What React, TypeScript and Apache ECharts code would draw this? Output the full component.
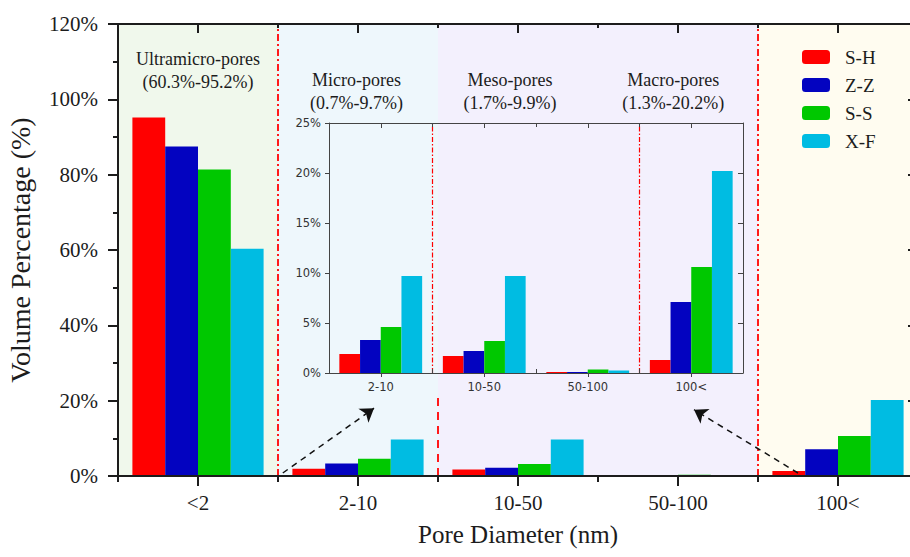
import React, { useEffect, useRef } from "react";
import * as echarts from "echarts";

// ---- data ----
const categories = ["<2", "2-10", "10-50", "50-100", "100<"];
const insetCategories = ["2-10", "10-50", "50-100", "100<"];
const seriesNames = ["S-H", "Z-Z", "S-S", "X-F"];
const shValues = [95.2, 1.9, 1.7, 0.1, 1.3];
const zzValues = [87.5, 3.3, 2.2, 0.1, 7.1];
const ssValues = [81.4, 4.6, 3.2, 0.35, 10.6];
const xfValues = [60.3, 9.7, 9.7, 0.25, 20.2];
const seriesValues = [shValues, zzValues, ssValues, xfValues];
const seriesColors = ["#ff0000", "#0303c0", "#00c800", "#00bce2"];
const mainTicks = [0, 20, 40, 60, 80, 100, 120];
const insetTicks = [0, 5, 10, 15, 20, 25];
const regionTitles = ["Ultramicro-pores", "Micro-pores", "Meso-pores", "Macro-pores"];
const regionRanges = ["(60.3%-95.2%)", "(0.7%-9.7%)", "(1.7%-9.9%)", "(1.3%-20.2%)"];

const SERIF = "'Liberation Serif', 'Times New Roman', serif";
const SANS = "'DejaVu Sans', Tahoma, sans-serif";
const INK = "#1c1c1c";
const RED = "#ff1a1a";

export default function App() {
  const ref = useRef<HTMLDivElement>(null);

  useEffect(() => {
    if (!ref.current) return;
    const chart = echarts.init(ref.current, undefined, { renderer: "svg" });

    const axisLine = { show: true, lineStyle: { color: INK, width: 2 } };
    const insetLine = { show: true, lineStyle: { color: "#444", width: 1 } };

    const catAxis = (extra: any) => ({
      type: "category",
      data: categories,
      gridIndex: 0,
      boundaryGap: true,
      z: 10,
      axisLine: { show: false },
      axisLabel: { show: false },
      splitLine: { show: false },
      ...extra,
    });
    const insetCatAxis = (extra: any) => ({
      type: "category",
      data: insetCategories,
      gridIndex: 1,
      boundaryGap: true,
      z: 10,
      axisLine: { show: false },
      axisLabel: { show: false },
      splitLine: { show: false },
      ...extra,
    });

    const insetDash = { color: "#ff0000", width: 1.2, type: [5, 2, 1.5, 2] };

    const option: any = {
      animation: false,
      backgroundColor: "#ffffff",
      textStyle: { fontFamily: SERIF },
      grid: [
        { left: 118, top: 24, width: 800, height: 452, outerBoundsMode: "none", containLabel: false },
        { left: 329, top: 123, width: 414, height: 250, outerBoundsMode: "none", containLabel: false },
      ],
      legend: {
        data: seriesNames,
        orient: "vertical",
        left: 797,
        top: 42,
        itemWidth: 28,
        itemHeight: 14,
        itemGap: 8,
        icon: "roundRect",
        textStyle: {
          fontFamily: SERIF,
          fontSize: 19,
          lineHeight: 20,
          color: INK,
          padding: [0, 0, 0, 10],
        },
      },
      xAxis: [
        // 0: main bottom, labels + center ticks
        catAxis({
          position: "bottom",
          axisLine,
          axisTick: { show: true, alignWithLabel: true, length: 10, lineStyle: { color: INK, width: 2 } },
          axisLabel: { show: true, fontFamily: SERIF, fontSize: 21, color: INK, margin: 16 },
          name: "Pore Diameter (nm)",
          nameLocation: "middle",
          nameGap: 46,
          nameTextStyle: { fontFamily: SERIF, fontSize: 25, color: INK },
        }),
        // 1: main bottom, boundary ticks
        catAxis({
          position: "bottom",
          axisTick: { show: true, alignWithLabel: false, length: 6, lineStyle: { color: INK, width: 2 } },
        }),
        // 2: main top, center ticks
        catAxis({
          position: "top",
          axisLine,
          axisTick: { show: true, inside: true, alignWithLabel: true, length: 9, lineStyle: { color: INK, width: 2 } },
        }),
        // 3: main top, boundary ticks
        catAxis({
          position: "top",
          axisTick: { show: true, inside: true, alignWithLabel: false, length: 4, lineStyle: { color: INK, width: 2 } },
        }),
        // 4: hidden value axis for decorations of main grid
        { type: "value", gridIndex: 0, min: 0, max: categories.length, show: false },
        // 5: inset bottom, labels
        insetCatAxis({
          position: "bottom",
          axisLine: insetLine,
          axisTick: { show: true, alignWithLabel: true, length: 4, lineStyle: { color: "#444" } },
          axisLabel: { show: true, fontFamily: SANS, fontSize: 11.5, color: "#333", margin: 8 },
        }),
        // 6: inset bottom boundary ticks (inward)
        insetCatAxis({
          position: "bottom",
          axisTick: { show: true, inside: true, alignWithLabel: false, length: 4, lineStyle: { color: "#444" } },
        }),
        // 7: inset top center ticks
        insetCatAxis({
          position: "top",
          axisLine: insetLine,
          axisTick: { show: true, inside: true, alignWithLabel: true, length: 5, lineStyle: { color: "#444" } },
        }),
        // 8: inset top boundary ticks
        insetCatAxis({
          position: "top",
          axisTick: { show: true, inside: true, alignWithLabel: false, length: 4, lineStyle: { color: "#444" } },
        }),
        // 9: hidden value axis for inset decorations
        { type: "value", gridIndex: 1, min: 0, max: insetCategories.length, show: false },
      ],
      yAxis: [
        {
          type: "value",
          gridIndex: 0,
          position: "left",
          min: mainTicks[0],
          max: mainTicks[mainTicks.length - 1],
          interval: mainTicks[1] - mainTicks[0],
          z: 10,
          axisLine,
          axisTick: { show: true, length: 10, lineStyle: { color: INK, width: 2 } },
          minorTick: { show: true, splitNumber: 2, length: 5, lineStyle: { color: INK, width: 2 } },
          axisLabel: { fontFamily: SERIF, fontSize: 21, color: INK, margin: 20, formatter: "{value}%" },
          splitLine: { show: false },
          name: "Volume Percentage (%)",
          nameLocation: "middle",
          nameGap: 84,
          nameTextStyle: { fontFamily: SERIF, fontSize: 28, color: INK },
        },
        {
          type: "value",
          gridIndex: 0,
          position: "right",
          min: mainTicks[0],
          max: mainTicks[mainTicks.length - 1],
          interval: mainTicks[1] - mainTicks[0],
          z: 10,
          axisLine,
          axisTick: { show: true, inside: true, length: 10, lineStyle: { color: INK, width: 2 } },
          axisLabel: { show: false },
          splitLine: { show: false },
        },
        {
          type: "value",
          gridIndex: 1,
          position: "left",
          min: insetTicks[0],
          max: insetTicks[insetTicks.length - 1],
          interval: insetTicks[1] - insetTicks[0],
          z: 10,
          axisLine: insetLine,
          axisTick: { show: true, length: 4, lineStyle: { color: "#444" } },
          axisLabel: { fontFamily: SANS, fontSize: 11.5, color: "#333", margin: 8, formatter: "{value}%" },
          splitLine: { show: false },
        },
        {
          type: "value",
          gridIndex: 1,
          position: "right",
          min: insetTicks[0],
          max: insetTicks[insetTicks.length - 1],
          interval: insetTicks[1] - insetTicks[0],
          z: 10,
          axisLine: insetLine,
          axisTick: { show: true, inside: true, length: 5, lineStyle: { color: "#444" } },
          axisLabel: { show: false },
          splitLine: { show: false },
        },
      ],
      series: [] as any[],
    };

    // decoration series (backgrounds, separators, labels, arrows) on main grid
    option.series.push({
      name: "decor-main",
      type: "line",
      xAxisIndex: 4,
      yAxisIndex: 0,
      data: [],
      silent: true,
      markArea: {
        silent: true,
        data: [
          [{ xAxis: 0, itemStyle: { color: "#f0f8ec" } }, { xAxis: 1 }],
          [{ xAxis: 1, itemStyle: { color: "#eef7fc" } }, { xAxis: 2 }],
          [{ xAxis: 2, itemStyle: { color: "#f3f0fd" } }, { xAxis: 4 }],
          [{ xAxis: 4, itemStyle: { color: "#fffcf0" } }, { xAxis: 5 }],
        ],
      },
      markLine: {
        silent: true,
        symbol: ["none", "none"],
        label: { show: false },
        lineStyle: { color: RED, width: 2, type: [7, 3, 2, 3] },
        data: [
          { xAxis: 1, lineStyle: { color: RED, width: 2, type: [7, 3, 2, 3] } },
          { xAxis: 4, lineStyle: { color: RED, width: 2, type: [7, 3, 2, 3] } },
          [
            { coord: [2, 0], lineStyle: { color: RED, width: 2, type: [8, 6] } },
            { coord: [2, 22] },
          ],
          [
            { coord: [1.03, 0.8], symbol: "none", lineStyle: { color: "#111", width: 1.5, type: [6, 5] } },
            { coord: [1.6, 18], symbol: "arrow", symbolSize: 13 },
          ],
          [
            { coord: [4.25, 0.8], symbol: "none", lineStyle: { color: "#111", width: 1.5, type: [6, 5] } },
            { coord: [3.6, 17.6], symbol: "arrow", symbolSize: 13 },
          ],
        ],
      },
      markPoint: {
        silent: true,
        symbol: "circle",
        symbolSize: 0,
        label: {
          show: true,
          position: "inside",
          fontFamily: SERIF,
          fontSize: 18,
          lineHeight: 23,
          color: INK,
          align: "center",
        },
        data: [
          { coord: [0.5, 107.6], label: { formatter: regionTitles[0] + "\n" + regionRanges[0] } },
          { coord: [1.49, 102], label: { formatter: regionTitles[1] + "\n" + regionRanges[1] } },
          { coord: [2.45, 102], label: { formatter: regionTitles[2] + "\n" + regionRanges[2] } },
          { coord: [3.47, 102], label: { formatter: regionTitles[3] + "\n" + regionRanges[3] } },
        ],
      },
    });

    // main bars
    seriesNames.forEach((name, i) => {
      option.series.push({
        name,
        type: "bar",
        xAxisIndex: 0,
        yAxisIndex: 0,
        data: seriesValues[i],
        barGap: "0%",
        barCategoryGap: "18%",
        itemStyle: { color: seriesColors[i] },
        z: 3,
      });
    });

    // inset decorations
    option.series.push({
      name: "decor-inset",
      type: "line",
      xAxisIndex: 9,
      yAxisIndex: 2,
      data: [],
      silent: true,
      z: 4,
      color: "#ff0000",
      markLine: {
        silent: true,
        symbol: ["none", "none"],
        label: { show: false },
        lineStyle: insetDash,
        data: [
          [{ coord: [1, 0], lineStyle: insetDash }, { coord: [1, 25] }],
          [{ coord: [3, 0], lineStyle: insetDash }, { coord: [3, 25] }],
        ],
      },
    });

    // inset bars
    seriesNames.forEach((name, i) => {
      option.series.push({
        name,
        type: "bar",
        xAxisIndex: 5,
        yAxisIndex: 2,
        data: seriesValues[i].slice(1),
        barGap: "0%",
        barCategoryGap: "20%",
        itemStyle: { color: seriesColors[i] },
        z: 3,
      });
    });

    chart.setOption(option);
    return () => chart.dispose();
  }, []);

  return (
    <div
      style={{
        position: "fixed",
        left: 0,
        top: 0,
        width: 910,
        height: 557,
        overflow: "hidden",
        background: "#fff",
      }}
    >
      <div ref={ref} style={{ width: 930, height: 557 }} />
    </div>
  );
}
